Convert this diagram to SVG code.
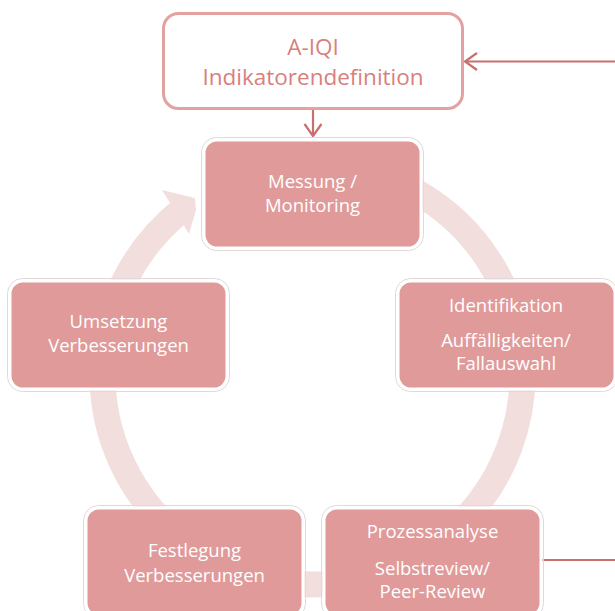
<svg xmlns="http://www.w3.org/2000/svg" width="615" height="611" viewBox="0 0 615 611">
<defs>
<style>
.node{fill:#e09a9a;stroke:#ffffff;stroke-width:3}
.halo{fill:none;stroke:#e2d8d8;stroke-width:1}
.nt{font-family:"Open Sans","Liberation Sans",sans-serif;font-size:18.5px;fill:#ffffff;text-anchor:middle}
.tt{font-family:"Open Sans","Liberation Sans",sans-serif;font-size:22.5px;fill:#d87f7c;text-anchor:middle}
.conn{fill:none;stroke:#c96f6f;stroke-width:2.2}
.ring{fill:none;stroke:#f3dede;stroke-width:26}
</style>
<marker id="chev" markerUnits="userSpaceOnUse" markerWidth="30" markerHeight="30" viewBox="-15 -15 30 30" refX="0" refY="0" orient="auto">
<path d="M -12 -8.5 L 0 0 L -12 8.5" fill="none" stroke="#c96f6f" stroke-width="2.2"/>
</marker>
</defs>
<g id="cycle-arrow">
<path class="ring" d="M 330.8 165.3 A 210 210 0 1 1 183.2 209.0"/>
<polygon points="162,190 195,198 196,210 189,234" fill="#f3dede"/>
</g>
<g id="connectors">
<line class="conn" x1="313" y1="110" x2="313" y2="136" marker-end="url(#chev)"/>
<line class="conn" x1="615" y1="61.5" x2="465" y2="61.5" marker-end="url(#chev)"/>
<line class="conn" x1="540" y1="560" x2="615" y2="560"/>
</g>
<g id="node-aiqi">
<rect x="163.5" y="13.5" width="299" height="95" rx="15" fill="#ffffff" stroke="#e3a1a1" stroke-width="3"/>
<text class="tt" x="313" y="55">A-IQI</text>
<text class="tt" x="313" y="85">Indikatorendefinition</text>
</g>
<g id="node-messung">
<rect class="halo" x="201.5" y="137.5" width="222" height="113" rx="15"/>
<rect class="node" x="204" y="140" width="217" height="108" rx="13"/>
<text class="nt" x="312.5" y="188">Messung /</text>
<text class="nt" x="312.5" y="212">Monitoring</text>
</g>
<g id="node-identifikation">
<rect class="halo" x="395.5" y="278.5" width="222" height="113" rx="15"/>
<rect class="node" x="398" y="281" width="217" height="108" rx="13"/>
<text class="nt" x="506" y="312">Identifikation</text>
<text class="nt" x="506" y="347">Auffälligkeiten/</text>
<text class="nt" x="506" y="370">Fallauswahl</text>
</g>
<g id="node-umsetzung">
<rect class="halo" x="7.5" y="278.5" width="222" height="113" rx="15"/>
<rect class="node" x="10" y="281" width="217" height="108" rx="13"/>
<text class="nt" x="118.5" y="328">Umsetzung</text>
<text class="nt" x="118.5" y="352">Verbesserungen</text>
</g>
<g id="node-festlegung">
<rect class="halo" x="83.5" y="505.5" width="222" height="113" rx="15"/>
<rect class="node" x="86" y="508" width="217" height="108" rx="13"/>
<text class="nt" x="194.5" y="557">Festlegung</text>
<text class="nt" x="194.5" y="582">Verbesserungen</text>
</g>
<g id="node-prozessanalyse">
<rect class="halo" x="321.5" y="505.5" width="222" height="113" rx="15"/>
<rect class="node" x="324" y="508" width="217" height="108" rx="13"/>
<text class="nt" x="432.5" y="538">Prozessanalyse</text>
<text class="nt" x="432.5" y="575">Selbstreview/</text>
<text class="nt" x="432.5" y="598">Peer-Review</text>
</g>
</svg>
